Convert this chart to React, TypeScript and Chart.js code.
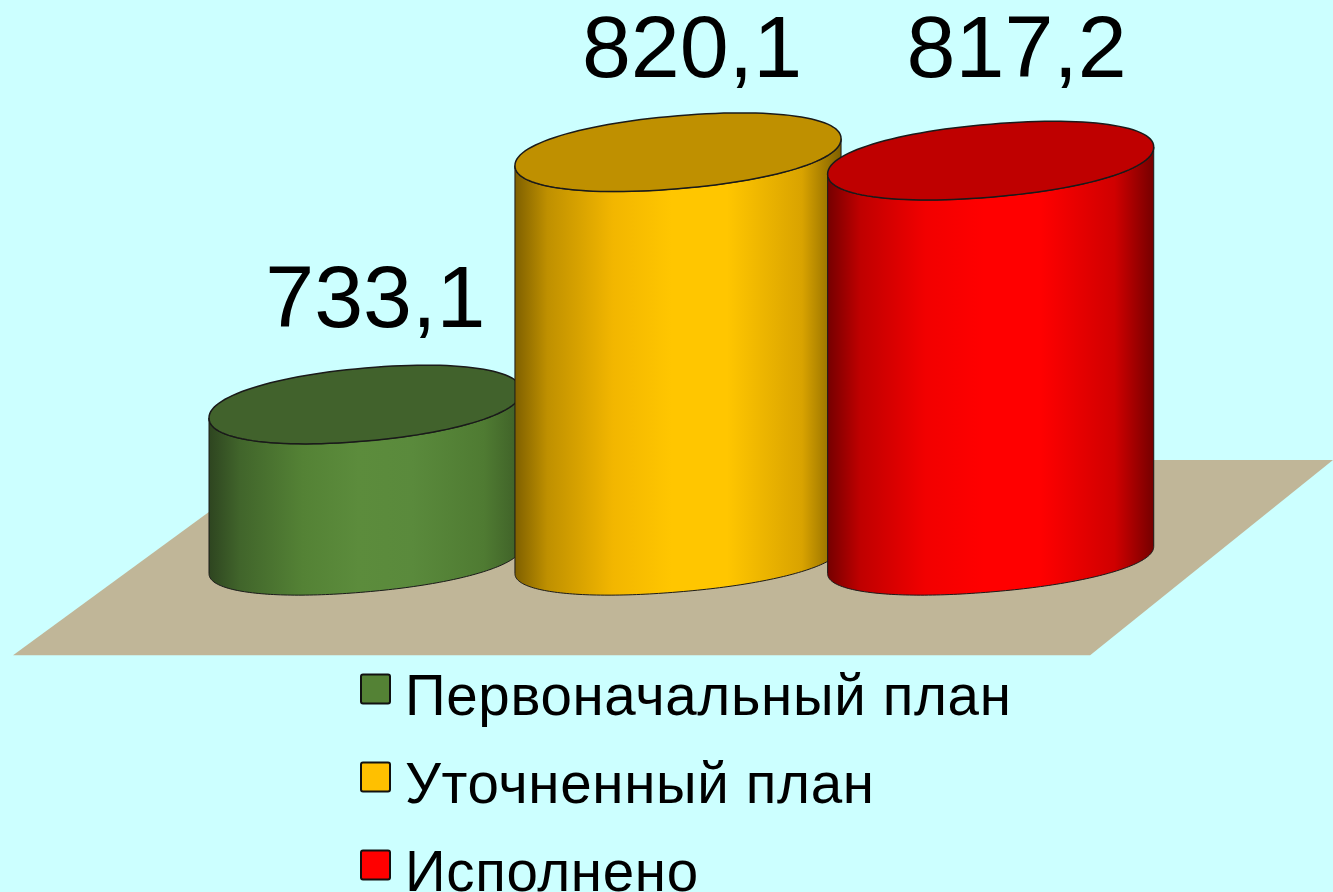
import React, { useEffect, useRef } from "react";
import { Chart, registerables } from "chart.js";

Chart.register(...registerables);

const categories = ["Исполнение"];
const seriesNames = ["Первоначальный план", "Уточненный план", "Исполнено"];
const seriesValues = [733.1, 820.1, 817.2];
const valueLabels = ["733,1", "820,1", "817,2"];
const seriesColors = ["#548235", "#FFC000", "#FF0000"];
const topColors = ["#41622C", "#BF9000", "#BF0000"];
const gradients = [
  ["#2E4520", "#41652B", "#548235", "#5C8C3C", "#5A8A3C", "#4F7B32", "#3E5F27"],
  ["#7F6000", "#BF9000", "#F2B600", "#FFC600", "#FFC600", "#D9A300", "#7F6000"],
  ["#750000", "#BF0000", "#F20000", "#FF0000", "#FF0000", "#D00000", "#750000"],
];
const gradientStops = [0, 0.1, 0.3, 0.48, 0.65, 0.88, 1];
const labelOffsetX = [10, 14, 26];
const labelOffsetY = [-102, -100, -108];

const FONT = '"Liberation Sans", Arial, sans-serif';
const TILT = 13.5;
const TOP_H = 36.5;
const BOTTOM_H = 32;
const ROUNDNESS = 0.94;

function spow(v: number, e: number) {
  return Math.sign(v) * Math.pow(Math.abs(v), e);
}

function ellipsePoints(ctx: CanvasRenderingContext2D, cx: number, cy: number, w: number, h: number, from: number, to: number, move: boolean) {
  const steps = 120;
  for (let i = 0; i <= steps; i++) {
    const t = from + ((to - from) * i) / steps;
    const u = spow(Math.cos(t), ROUNDNESS);
    const v = spow(Math.sin(t), ROUNDNESS);
    const x = cx + w * u;
    const y = cy - TILT * u + h * v;
    if (i === 0 && move) ctx.moveTo(x, y);
    else ctx.lineTo(x, y);
  }
}

const cylinderPlugin = {
  id: "cylinders",
  beforeDraw(chart: any) {
    const { ctx, width, height } = chart;
    ctx.save();
    ctx.fillStyle = "#CCFFFF";
    ctx.fillRect(0, 0, width, height);
    ctx.fillStyle = "#C0B698";
    ctx.beginPath();
    ctx.moveTo(width * 0.0098, height * 0.7345);
    ctx.lineTo(width * 0.8178, height * 0.7345);
    ctx.lineTo(width, height * 0.5157);
    ctx.lineTo(width * 0.21, height * 0.5157);
    ctx.closePath();
    ctx.fill();
    ctx.restore();
  },
  beforeDatasetDraw() {
    return false;
  },
  afterDatasetsDraw(chart: any) {
    const { ctx } = chart;
    seriesValues.forEach((_, i) => {
      const bar = chart.getDatasetMeta(i).data[0];
      const cx = bar.x;
      const w = bar.width / 2;
      const yt = bar.y;
      const yb = bar.base;
      const grad = ctx.createLinearGradient(cx - w, 0, cx + w, 0);
      gradientStops.forEach((s, k) => grad.addColorStop(s, gradients[i][k]));
      ctx.save();
      ctx.beginPath();
      ctx.moveTo(cx - w, yt + TILT);
      ctx.lineTo(cx - w, yb + TILT);
      ellipsePoints(ctx, cx, yb, w, BOTTOM_H, Math.PI, 0, false);
      ctx.lineTo(cx + w, yt - TILT);
      ellipsePoints(ctx, cx, yt, w, TOP_H, 0, Math.PI, false);
      ctx.closePath();
      ctx.fillStyle = grad;
      ctx.fill();
      ctx.lineWidth = 1;
      ctx.strokeStyle = "#1A1A1A";
      ctx.stroke();
      ctx.beginPath();
      ellipsePoints(ctx, cx, yt, w, TOP_H, 0, Math.PI * 2, true);
      ctx.closePath();
      ctx.fillStyle = topColors[i];
      ctx.fill();
      ctx.lineWidth = 1.5;
      ctx.strokeStyle = "#1A1A1A";
      ctx.stroke();
      ctx.restore();
    });
    seriesValues.forEach((_, i) => {
      const bar = chart.getDatasetMeta(i).data[0];
      ctx.save();
      ctx.font = `88px ${FONT}`;
      ctx.fillStyle = "#000";
      ctx.textAlign = "center";
      ctx.textBaseline = "middle";
      ctx.fillText(valueLabels[i], bar.x + labelOffsetX[i], bar.y + labelOffsetY[i]);
      ctx.restore();
    });
  },
  afterDraw(chart: any) {
    const { ctx } = chart;
    const items = chart.legend.legendItems || [];
    items.forEach((item: any, i: number) => {
      const top = 674.5 + i * 88;
      ctx.save();
      ctx.beginPath();
      ctx.roundRect(361, top, 29, 29, 2);
      ctx.fillStyle = item.fillStyle;
      ctx.fill();
      ctx.lineWidth = 2;
      ctx.strokeStyle = "#111";
      ctx.stroke();
      ctx.font = `56.5px ${FONT}`;
      (ctx as any).letterSpacing = "0.65px";
      ctx.fillStyle = "#000";
      ctx.textAlign = "left";
      ctx.textBaseline = "alphabetic";
      ctx.fillText(item.text, 405, 715 + i * 88);
      ctx.restore();
    });
  },
};

export default function App() {
  const ref = useRef<HTMLCanvasElement>(null);
  useEffect(() => {
    const chart = new Chart(ref.current as HTMLCanvasElement, {
      type: "bar",
      data: {
        labels: categories,
        datasets: seriesNames.map((name, i) => ({
          label: name,
          data: [seriesValues[i]],
          backgroundColor: seriesColors[i],
          base: 679.5,
          categoryPercentage: 1,
          barPercentage: i === 0 ? 1 : 1.043,
        })),
      },
      options: {
        responsive: false,
        animation: false,
        layout: { padding: { left: 209, right: 186, top: 0, bottom: 0 } },
        scales: {
          x: { display: false },
          y: { display: false, min: 565, max: 872.6 },
        },
        plugins: {
          legend: { display: false },
          tooltip: { enabled: false },
          title: { display: false },
        },
      },
      plugins: [cylinderPlugin],
    } as any);
    return () => chart.destroy();
  }, []);
  return (
    <div style={{ position: "absolute", left: 0, top: 0, width: 1333, height: 892, overflow: "hidden" }}>
      <canvas ref={ref} width={1333} height={892} style={{ display: "block" }} />
    </div>
  );
}
